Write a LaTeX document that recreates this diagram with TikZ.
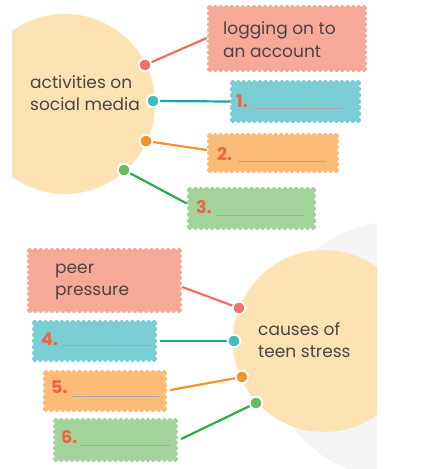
\documentclass[tikz,border=0pt]{standalone}
\usepackage{fontspec}
\setmainfont{Poppins}
\usetikzlibrary{fit}
\definecolor{peach}{HTML}{FDE3B4}
\definecolor{bgray}{HTML}{F5F5F5}
\definecolor{rbox}{HTML}{F7A998}
\definecolor{tbox}{HTML}{7ACDD3}
\definecolor{obox}{HTML}{FCBB77}
\definecolor{gbox}{HTML}{A2D39B}
\definecolor{rline}{HTML}{EF6F62}
\definecolor{tline}{HTML}{15A8A2}
\definecolor{oline}{HTML}{F4922C}
\definecolor{gline}{HTML}{2DAA4B}
\definecolor{rdot}{HTML}{EF7468}
\definecolor{tdot}{HTML}{3DBDBE}
\definecolor{odot}{HTML}{F4932E}
\definecolor{gdot}{HTML}{67BC62}
\definecolor{numc}{HTML}{EE6446}
\definecolor{txtc}{HTML}{4A4444}
\definecolor{blank}{HTML}{A8A8A8}
\tikzset{
  boxnode/.style={inner sep=0pt, draw=none},
  txt/.style={anchor=base west, inner sep=0pt, text=txtc, font=\fontsize{17}{20}\selectfont},
  num/.style={anchor=base west, inner sep=0pt, text=numc, font=\fontsize{17.5}{20}\selectfont\bfseries},
  blankline/.style={draw=blank, line width=0.9pt},
  conn/.style={line width=2.2pt},
  dotnode/.style={circle, inner sep=0pt, minimum size=12.5pt, draw=white, line width=1.8pt},
}
\newcommand\stampnotch[4]{%
  \pgfmathtruncatemacro\nh{(#3-#1)/5.4}%
  \pgfmathsetmacro\dxh{(#3-#1)/\nh}%
  \pgfmathtruncatemacro\nv{(#4-#2)/5.4}%
  \pgfmathsetmacro\dyv{(#4-#2)/\nv}%
  \foreach \i in {0,...,\nh}{%
    \fill[white] (#1+\i*\dxh,#2) circle (1.9pt);
    \fill[white] (#1+\i*\dxh,#4) circle (1.9pt);
  }%
  \foreach \i in {0,...,\nv}{%
    \fill[white] (#1,#2+\i*\dyv) circle (1.9pt);
    \fill[white] (#3,#2+\i*\dyv) circle (1.9pt);
  }%
}
\begin{document}
\begin{tikzpicture}[x=1pt,y=-1pt]
\useasboundingbox (0,0) rectangle (426,469);
% faint background shape
\begin{scope}
  \clip (255,220) rectangle (377,469);
  \fill[bgray] (395,350) circle (128pt);
\end{scope}
% circles
\begin{scope}
  \clip (12,0) rectangle (200,230);
  \fill[peach] (65,104) circle (90pt);
\end{scope}
\begin{scope}
  \clip (200,240) rectangle (377,469);
  \fill[peach] (324,341) circle (91pt);
\end{scope}
\coordinate (c1) at (65,104);
\coordinate (c2) at (324,341);
% boxes
\node[boxnode, fill=rbox, fit={(207,5) (367,72)}] (b0) {};
\stampnotch{207}{5}{367}{72}
\node[boxnode, fill=tbox, fit={(230,80) (361,123)}] (b1) {};
\stampnotch{230}{80}{361}{123}
\node[boxnode, fill=obox, fit={(207,133) (339,173)}] (b2) {};
\stampnotch{207}{133}{339}{173}
\node[boxnode, fill=gbox, fit={(187,187) (316,230)}] (b3) {};
\stampnotch{187}{187}{316}{230}
\node[boxnode, fill=rbox, fit={(27,248) (182,313)}] (b7) {};
\stampnotch{27}{248}{182}{313}
\node[boxnode, fill=tbox, fit={(32,320) (157,362)}] (b4) {};
\stampnotch{32}{320}{157}{362}
\node[boxnode, fill=obox, fit={(43,370) (167,412)}] (b5) {};
\stampnotch{43}{370}{167}{412}
\node[boxnode, fill=gbox, fit={(53,418) (178,462)}] (b6) {};
\stampnotch{53}{418}{178}{462}
% dots positions
\coordinate (d0) at (145,65);
\coordinate (d1) at (153,101);
\coordinate (d2) at (146,141);
\coordinate (d3) at (124,170);
\coordinate (d7) at (239,308);
\coordinate (d4) at (234,341);
\coordinate (d5) at (242,377);
\coordinate (d6) at (256,403);
% connectors
\draw[conn, rline] (d0) -- ([yshift=0.5pt]b0.west);
\draw[conn, tline] (d1) -- (b1.west);
\draw[conn, oline] (d2) -- ([yshift=3pt]b2.west);
\draw[conn, gline] (d3) -- ([yshift=5pt]b3.west);
\draw[conn, rline] (d7) -- ([yshift=-6.5pt]b7.east);
\draw[conn, tline] (d4) -- ([xshift=3pt]b4.east);
\draw[conn, oline] (d5) -- ([xshift=3pt,yshift=1pt]b5.east);
\draw[conn, gline] (d6) -- ([xshift=3pt,yshift=1pt]b6.east);
% dots
\node[dotnode, fill=rdot] (p0) at (d0) {};
\node[dotnode, fill=tdot] (p1) at (d1) {};
\node[dotnode, fill=odot] (p2) at (d2) {};
\node[dotnode, fill=gdot] (p3) at (d3) {};
\node[dotnode, fill=rdot] (p7) at (d7) {};
\node[dotnode, fill=tdot] (p4) at (d4) {};
\node[dotnode, fill=odot] (p5) at (d5) {};
\node[dotnode, fill=gdot] (p6) at (d6) {};
% texts
\node[txt] (t1a) at (30,88) {activities on};
\node[txt] (t1b) at (30,110) {social media};
\node[txt] (t2a) at (258,335) {causes of};
\node[txt] (t2b) at (258,357) {teen stress};
\node[txt] (t0a) at (223,34) {logging on to};
\node[txt] (t0b) at (223,57) {an account};
\node[txt] (t7a) at (55,273) {peer};
\node[txt] (t7b) at (55,295) {pressure};
% numbered blanks
\node[num] (n1) at (236,107) {1.};
\draw[blankline] (255,108) -- (343,108);
\node[num] (n2) at (217,160) {2.};
\draw[blankline] (238,161) -- (326,161);
\node[num] (n3) at (196,213) {3.};
\draw[blankline] (216,215) -- (305,215);
\node[num] (n4) at (41,345) {4.};
\draw[blankline] (62,345) -- (152,345);
\node[num] (n5) at (51,393) {5.};
\draw[blankline] (72,396) -- (160,396);
\node[num] (n6) at (61,443) {6.};
\draw[blankline] (81,445) -- (170,445);
\end{tikzpicture}
\end{document}
